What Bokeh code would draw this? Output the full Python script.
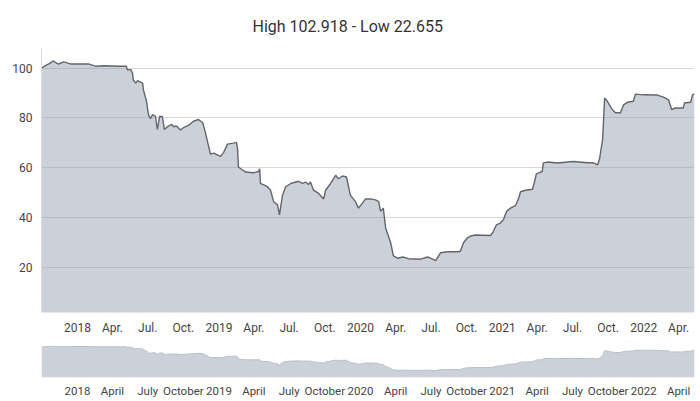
import pandas as pd
from bokeh.plotting import figure
from bokeh.models import FixedTicker, Range1d
from bokeh.layouts import column
from bokeh.embed import file_html
from bokeh.resources import INLINE

title_text = "High 102.918 - Low 22.655"

dates = [
    "2017-09-30", "2017-10-10", "2017-10-20", "2017-10-31", "2017-11-06", "2017-11-13",
    "2017-11-26", "2017-12-14", "2018-01-29", "2018-02-16", "2018-03-09", "2018-04-22",
    "2018-05-07", "2018-05-10", "2018-05-18", "2018-05-23", "2018-05-25", "2018-05-31",
    "2018-06-05", "2018-06-18", "2018-06-20", "2018-06-28", "2018-07-03", "2018-07-08",
    "2018-07-14", "2018-07-21", "2018-07-26", "2018-08-01", "2018-08-08", "2018-08-13",
    "2018-08-21", "2018-09-01", "2018-09-06", "2018-09-13", "2018-09-24", "2018-10-01",
    "2018-10-14", "2018-10-27", "2018-11-09", "2018-11-20", "2018-11-27", "2018-12-05",
    "2018-12-10", "2018-12-18", "2019-01-05", "2019-01-13", "2019-01-23", "2019-02-07",
    "2019-02-15", "2019-02-18", "2019-02-20", "2019-03-10", "2019-03-31", "2019-04-13",
    "2019-04-16", "2019-04-18", "2019-05-06", "2019-05-14", "2019-05-22", "2019-06-01",
    "2019-06-06", "2019-06-14", "2019-06-22", "2019-07-05", "2019-07-25", "2019-08-05",
    "2019-08-12", "2019-08-20", "2019-08-25", "2019-09-02", "2019-09-15", "2019-09-28",
    "2019-10-03", "2019-10-16", "2019-10-29", "2019-11-05", "2019-11-16", "2019-11-26",
    "2019-12-06", "2019-12-19", "2019-12-27", "2020-01-09", "2020-01-14", "2020-01-27",
    "2020-02-09", "2020-02-17", "2020-02-22", "2020-02-29", "2020-03-06", "2020-03-19",
    "2020-03-26", "2020-04-06", "2020-04-19", "2020-05-04", "2020-06-04", "2020-06-22",
    "2020-06-30", "2020-07-13", "2020-07-26", "2020-08-13", "2020-09-10", "2020-09-15",
    "2020-09-23", "2020-10-03", "2020-10-11", "2020-10-24", "2020-12-02", "2020-12-09",
    "2020-12-17", "2020-12-27", "2021-01-04", "2021-01-12", "2021-01-22", "2021-02-04",
    "2021-02-12", "2021-02-17", "2021-03-02", "2021-03-20", "2021-03-25", "2021-03-30",
    "2021-04-10", "2021-04-14", "2021-04-17", "2021-04-28", "2021-05-23", "2021-07-04",
    "2021-08-09", "2021-08-24", "2021-09-04", "2021-09-09", "2021-09-17", "2021-09-22",
    "2021-09-29", "2021-10-12", "2021-10-20", "2021-11-02", "2021-11-10", "2021-11-20",
    "2021-12-05", "2021-12-11", "2021-12-31", "2022-02-05", "2022-02-21", "2022-03-06",
    "2022-03-14", "2022-03-24", "2022-04-13", "2022-04-16", "2022-05-02", "2022-05-07",
    "2022-05-12",
]

values = [
    100.0, 101.0, 101.8, 102.9, 102.2, 101.6,
    102.5, 101.7, 101.7, 100.8, 101.0, 100.8,
    100.8, 99.2, 99.5, 97.9, 95.2, 94.0,
    95.0, 94.0, 91.3, 86.7, 81.4, 79.7,
    81.4, 80.7, 75.4, 80.7, 80.5, 75.4,
    76.5, 77.4, 76.5, 76.8, 75.2, 76.1,
    77.0, 78.7, 79.4, 78.1, 74.1, 68.8,
    65.5, 65.9, 64.6, 66.2, 69.5, 69.9,
    70.2, 67.5, 60.3, 58.3, 58.0, 58.5,
    59.6, 53.7, 52.4, 51.0, 46.4, 45.1,
    41.1, 49.0, 52.4, 53.7, 54.6, 53.7,
    54.3, 53.3, 54.3, 51.0, 49.7, 47.5,
    51.0, 53.7, 57.0, 55.6, 56.7, 56.3,
    49.0, 46.4, 43.8, 46.4, 47.5, 47.5,
    47.1, 46.4, 42.5, 43.8, 35.8, 29.9,
    24.6, 23.7, 24.2, 23.5, 23.3, 24.2,
    23.7, 22.7, 25.9, 26.3, 26.3, 26.6,
    29.9, 31.9, 32.6, 33.0, 32.8, 34.5,
    37.1, 37.8, 39.2, 42.5, 43.8, 44.8,
    47.7, 50.4, 51.0, 51.4, 54.3, 57.6,
    58.3, 58.5, 62.0, 62.3, 61.9, 62.5,
    62.0, 62.0, 61.2, 63.6, 71.5, 88.0,
    86.7, 83.4, 82.1, 82.1, 85.3, 86.3,
    86.7, 89.6, 89.3, 89.2, 88.4, 87.3,
    83.4, 84.0, 84.0, 86.0, 86.3, 89.3,
    89.7,
]

y_ticks = [20, 40, 60, 80, 100]

tick_dates = [
    "2018-01-01", "2018-04-01", "2018-07-01", "2018-10-01",
    "2019-01-01", "2019-04-01", "2019-07-01", "2019-10-01",
    "2020-01-01", "2020-04-01", "2020-07-01", "2020-10-01",
    "2021-01-01", "2021-04-01", "2021-07-01", "2021-10-01",
    "2022-01-01", "2022-04-01",
]
main_tick_labels = [
    "2018", "Apr.", "Jul.", "Oct.", "2019", "Apr.", "Jul.", "Oct.",
    "2020", "Apr.", "Jul.", "Oct.", "2021", "Apr.", "Jul.", "Oct.",
    "2022", "Apr.",
]
nav_tick_labels = [
    "2018", "April", "July", "October", "2019", "April", "July", "October",
    "2020", "April", "July", "October", "2021", "April", "July", "October",
    "2022", "April",
]

FONT = "Roboto"
LABEL_COLOR = "#444444"

x = pd.to_datetime(dates)
tick_ms = [pd.Timestamp(d).timestamp() * 1000.0 for d in tick_dates]
x_start = x[0].to_pydatetime()
x_end = x[-1].to_pydatetime()

# ---------------- main chart ----------------
p = figure(
    width=700, height=337,
    x_axis_type="datetime",
    x_range=Range1d(x_start, x_end),
    y_range=Range1d(1.9, 107.9),
    output_backend="svg", toolbar_location=None,
    min_border_left=41, min_border_right=6, min_border_top=48, min_border_bottom=22,
    title=title_text,
)
p.title.text_font = FONT
p.title.text_font_size = "16px"
p.title.text_font_style = "normal"
p.title.text_color = "#333333"
p.title.align = "left"
p.title.offset = 211
p.title.standoff = 26
p.title.vertical_align = "bottom"

p.varea(x=x, y1=0, y2=values, fill_color="#8d9aab", fill_alpha=0.45)
p.line(x=x, y=values, line_color="#62666c", line_width=1.4)

p.outline_line_color = None
p.background_fill_color = "white"
p.border_fill_color = "white"
p.xgrid.grid_line_color = None
p.ygrid.grid_line_color = "#d9d9d9"
p.ygrid.ticker = FixedTicker(ticks=y_ticks)

p.yaxis.ticker = FixedTicker(ticks=y_ticks)
p.yaxis.axis_line_color = "#dcdcdc"
p.yaxis.major_tick_line_color = None
p.yaxis.minor_tick_line_color = None
p.yaxis.major_tick_out = 0
p.yaxis.major_label_standoff = 9
p.yaxis.major_label_text_font = FONT
p.yaxis.major_label_text_font_size = "12px"
p.yaxis.major_label_text_color = LABEL_COLOR

p.xaxis.ticker = FixedTicker(ticks=tick_ms)
p.xaxis.major_label_overrides = {t: lab for t, lab in zip(tick_ms, main_tick_labels)}
p.xaxis.axis_line_color = None
p.xaxis.major_tick_line_color = None
p.xaxis.minor_tick_line_color = None
p.xaxis.major_tick_out = 0
p.xaxis.major_label_standoff = 8
p.xaxis.major_label_text_font = FONT
p.xaxis.major_label_text_font_size = "12px"
p.xaxis.major_label_text_color = LABEL_COLOR

# ---------------- navigator ----------------
n = figure(
    width=700, height=63,
    x_axis_type="datetime",
    x_range=Range1d(x_start, x_end),
    y_range=Range1d(0, 105),
    output_backend="svg", toolbar_location=None,
    min_border_left=41, min_border_right=6, min_border_top=8, min_border_bottom=22,
)
n.varea(x=x, y1=0, y2=values, fill_color="#8d9aab", fill_alpha=0.45)
n.line(x=x, y=values, line_color="#b9c0c9", line_width=1)
n.outline_line_color = None
n.xgrid.grid_line_color = None
n.ygrid.grid_line_color = None
n.yaxis.visible = False
n.xaxis.ticker = FixedTicker(ticks=tick_ms)
n.xaxis.major_label_overrides = {t: lab for t, lab in zip(tick_ms, nav_tick_labels)}
n.xaxis.axis_line_color = None
n.xaxis.major_tick_line_color = None
n.xaxis.minor_tick_line_color = None
n.xaxis.major_tick_out = 0
n.xaxis.major_label_standoff = 6
n.xaxis.major_label_text_font = FONT
n.xaxis.major_label_text_font_size = "11.5px"
n.xaxis.major_label_text_color = LABEL_COLOR

layout = column(p, n, spacing=0)

open("out.html", "w").write(file_html(layout, INLINE))
